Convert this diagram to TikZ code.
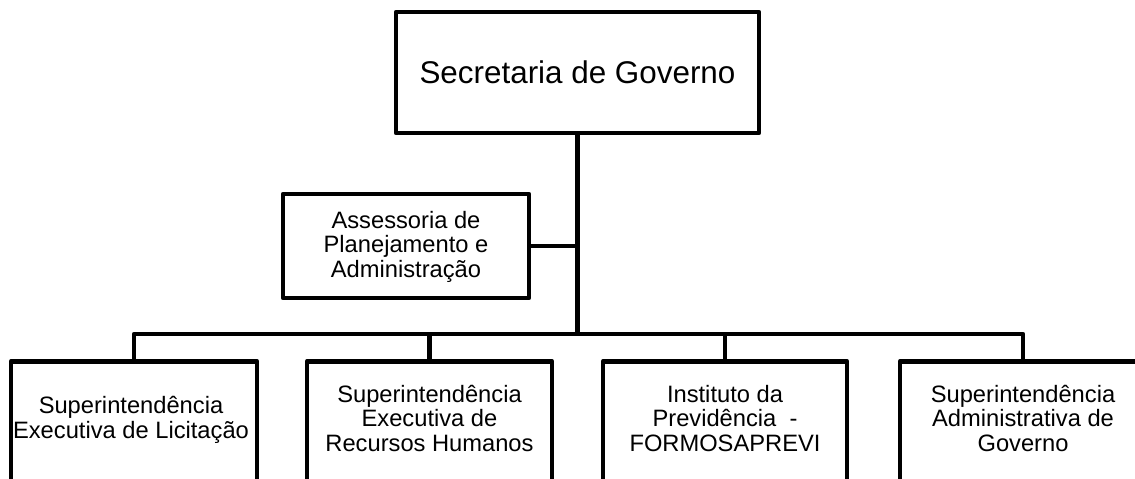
\documentclass[tikz,border=0pt]{standalone}
\usepackage{fontspec}
\setmainfont{Liberation Sans}
\newcommand{\sst}{\rule[-6pt]{0pt}{28pt}}
\newcommand{\boxfont}{\fontsize{23.7}{24.5}\selectfont\lineskiplimit=-100pt\relax}
\lineskiplimit=-100pt
\tikzset{
  boxline/.style={draw=black, line width=4.5pt, line join=round, fill=white, inner sep=0pt},
  conn/.style={draw=black, line width=4.5pt, line join=round},
  smalltext/.style={align=center, inner sep=0pt, font=\boxfont},
  titletext/.style={inner sep=0pt, font=\fontsize{31.4}{36}\selectfont}
}
\begin{document}
\begin{tikzpicture}[x=1pt,y=-1pt]
\useasboundingbox (0,0) rectangle (1135,479);
\fill[white] (0,0) rectangle (1135,479);
\clip (0,0) rectangle (1135,479);
% top box
\node[boxline, minimum width=363pt, minimum height=121pt] (top) at (577.5,72.5) {};
\node[titletext, anchor=base] (toptxt) at (577.5,83) {Secretaria de Governo};
% assessoria
\node[boxline, minimum width=246pt, minimum height=104pt] (ass) at (406,246) {};
\node[smalltext] (asstxt) at (406,244.5) {\sst{}Assessoria de\\\sst{}Planejamento e\\\sst{}Administração};
% junction on bus
\coordinate (j) at (577.5,334);
% bottom boxes (extend below picture edge)
\node[boxline, minimum width=246pt, minimum height=150pt, anchor=north] (b1) at (134,359) {};
\node[boxline, minimum width=245pt, minimum height=150pt, anchor=north] (b2) at (429.5,359) {};
\node[boxline, minimum width=244pt, minimum height=150pt, anchor=north] (b3) at (725,359) {};
\node[boxline, minimum width=246pt, minimum height=150pt, anchor=north] (b4) at (1023,359) {};
\node[smalltext] (t1) at (131,418) {\sst{}Superintendência\\\sst{}Executiva de Licitação};
\node[smalltext] (t2) at (429.5,418.5) {\sst{}Superintendência\\\sst{}Executiva de\\\sst{}Recursos Humanos};
\node[smalltext] (t3) at (725,418.5) {\sst{}Instituto da\\\sst{}Previdência\ \ -\\\sst{}FORMOSAPREVI};
\node[smalltext] (t4) at (1023,418.5) {\sst{}Superintendência\\\sst{}Administrativa de\\\sst{}Governo};
% connectors
\draw[conn] (top.south) -- (j);
\draw[conn] (ass.east) -- (ass.east -| top.south);
\draw[conn] (b1.north) -- (b1.north |- j) -- (b4.north |- j) -- (b4.north);
\draw[conn] (b2.north) -- (b2.north |- j);
\draw[conn] (b3.north) -- (b3.north |- j);
\end{tikzpicture}
\end{document}
